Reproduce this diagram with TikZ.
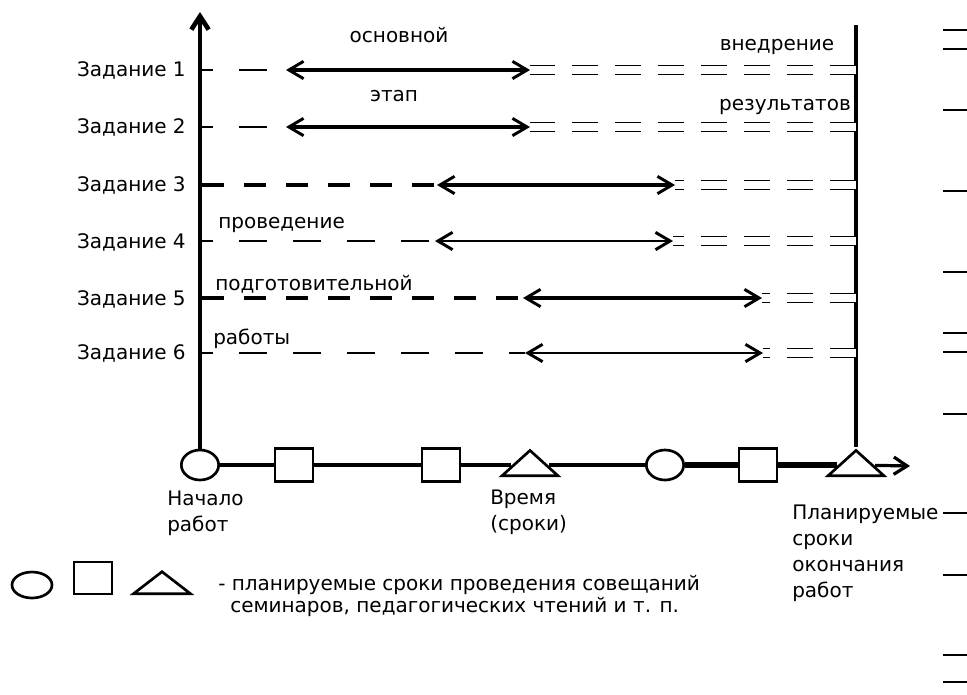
\documentclass[tikz,border=0pt]{standalone}
\usepackage{fontspec}
\setmainfont{DejaVu Sans}
\usetikzlibrary{arrows.meta}
\usetikzlibrary{shapes}

\begin{document}
\begin{tikzpicture}[x=0.75pt,y=-0.75pt,
  lbl/.style={font=\fontsize{15}{19.5}\selectfont, inner sep=0pt},
  ev/.style={draw, line width=2pt, fill=white, inner sep=0pt},
  meet/.style={ev, ellipse, minimum width=28pt, minimum height=22.5pt},
  semin/.style={ev, rectangle, minimum width=28.5pt, minimum height=24.5pt},
  reading/.style={ev, isosceles triangle, isosceles triangle stretches,
    shape border rotate=90, minimum width=42pt, minimum height=19pt},
  lightdash/.style={line width=1.3pt, dash pattern=on 21pt off 19.5pt, dash phase=12.75pt},
  heavydash/.style={line width=2.6pt, dash pattern=on 16.5pt off 15pt},
  twin/.style={double, double distance=5.6pt, line width=1.1pt,
    dash pattern=on 19.5pt off 12.75pt},
  stage/.style={{Straight Barb[length=11pt,width=13pt,line width=2.2pt]}-{Straight Barb[length=11pt,width=13pt,line width=2.2pt]}},
  ]
  \useasboundingbox (0,0) rectangle (967,694);

  % axes
  \node [meet] (c1) at (200,465) {};
  \node [semin] (q1) at (294,465) {};
  \node [semin] (q2) at (441,465) {};
  \node [reading] (t1) at (530,465) {};
  \node [meet] (c2) at (665,465) {};
  \node [semin] (q3) at (758,465) {};
  \node [reading] (t2) at (856,465) {};
  \coordinate (top) at (200,12);
  \coordinate (fin) at (856,25);
  \coordinate (tip) at (910,466);

  \draw [line width=3.5pt,-{Straight Barb[length=10pt,width=13pt]}] (c1) -- (top);
  \draw [line width=2.6pt] (fin) -- (t2.apex);
  \draw [line width=2.6pt] (c1) -- (q1) -- (q2) -- (t1) -- (c2);
  \draw [line width=4pt] (c2) -- (q3) -- (t2);
  \draw [line width=2.4pt,-{Straight Barb[length=10pt,width=13pt]}] (t2) -- (tip);

  \foreach \n/\y in {1/70,2/127,3/185,4/242,5/299,6/353}
  \node [lbl,anchor=east] (z\n) at (186,\y) {Задание \n};

  % rows
  \coordinate (s1) at (202,70);  \coordinate (a1) at (286,70);
  \coordinate (b1) at (530,70);  \coordinate (e1) at (856,70);
  \coordinate (s2) at (202,127); \coordinate (a2) at (286,127);
  \coordinate (b2) at (530,127); \coordinate (e2) at (856,127);
  \coordinate (s3) at (202,185); \coordinate (a3) at (437,185);
  \coordinate (b3) at (675,185); \coordinate (e3) at (856,185);
  \coordinate (s4) at (202,241); \coordinate (a4) at (435,241);
  \coordinate (b4) at (673,241); \coordinate (e4) at (856,241);
  \coordinate (s5) at (202,298); \coordinate (a5) at (523,298);
  \coordinate (b5) at (762,298); \coordinate (e5) at (856,298);
  \coordinate (s6) at (202,353); \coordinate (a6) at (525,353);
  \coordinate (b6) at (763,353); \coordinate (e6) at (856,353);

  \draw [lightdash] (s1) -- (a1);
  \draw [stage,line width=2.5pt] (a1) -- (b1);
  \draw [twin] (e1) -- (b1);
  \draw [lightdash] (s2) -- (a2);
  \draw [stage,line width=2.5pt] (a2) -- (b2);
  \draw [twin] (e2) -- (b2);
  \draw [heavydash] (s3) -- (a3);
  \draw [stage,line width=2.5pt] (a3) -- (b3);
  \draw [twin] (e3) -- (b3);
  \draw [lightdash] (s4) -- (a4);
  \draw [stage,line width=1.3pt] (a4) -- (b4);
  \draw [twin] (e4) -- (b4);
  \draw [heavydash] (s5) -- (a5);
  \draw [stage,line width=2.5pt] (a5) -- (b5);
  \draw [twin] (e5) -- (b5);
  \draw [lightdash] (s6) -- (a6);
  \draw [stage,line width=1.3pt] (a6) -- (b6);
  \draw [twin] (e6) -- (b6);

  % stage labels
  \node [lbl] (main) at (399,35) {основной};
  \node [lbl] (mainb) at (394,96) {этап};
  \node [lbl] (impl) at (777,47) {внедрение};
  \node [lbl] (implb) at (785,107) {результатов};
  \node [lbl,anchor=west] (prep) at (218,225) {проведение};
  \node [lbl,anchor=west] (prepb) at (215,284) {подготовительной};
  \node [lbl,anchor=west] (prepc) at (213,339) {работы};

  \node [lbl,anchor=north west,align=left] (begin) at (167,491) {Начало\\работ};
  \node [lbl,anchor=north west,align=left] (time) at (490,490) {Время\\(сроки)};
  \node [lbl,anchor=north west,align=left] (end) at (792,505)
  {Планируемые\\сроки\\окончания\\работ};

  % legend
  \node [meet,minimum width=30pt,minimum height=19.5pt] (lc) at (32,585) {};
  \node [semin,minimum width=28.5pt,minimum height=24pt] (lq) at (93,578) {};
  \node [reading,minimum width=42.75pt,minimum height=16.5pt] (lt) at (162,584) {};
  \node [lbl,anchor=west,font=\fontsize{15}{16}\selectfont] (leg) at (218,585)
  {- планируемые сроки проведения совещаний};
  \node [lbl,anchor=west,font=\fontsize{15}{16}\selectfont] (legb) at (230,607)
  {семинаров, педагогических чтений и т. п.};

  % marks at the right edge
  \foreach \y in {30,49,110,191,272,333,352,414,513,575,655,682}
  \draw [line width=1.2pt] (943,\y) -- (967,\y);
\end{tikzpicture}
\end{document}
